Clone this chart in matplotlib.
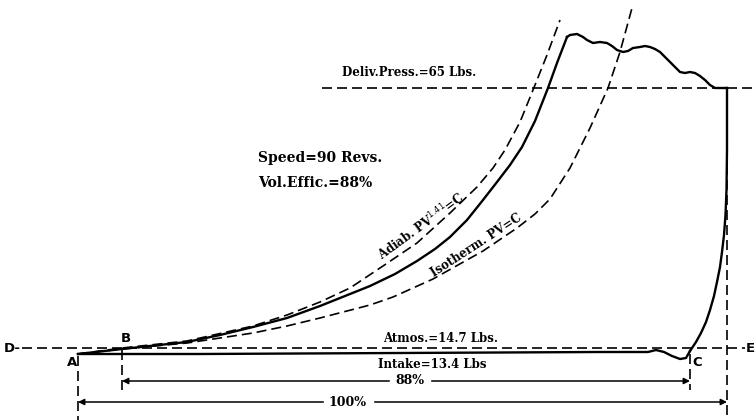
import matplotlib.pyplot as plt

# Indicator card of an air compressor, coordinates (pixel units, y down)
comp_x = [78, 122, 187, 220, 253, 287, 320, 345, 370, 395, 417, 435, 450, 467, 483,
          497, 510, 522, 535, 548, 557, 567]
comp_y = [354, 349, 342, 335, 327, 318, 306, 296, 286, 274, 261, 249, 237, 220, 200,
          182, 165, 147, 121, 88, 63, 37]

deliv_x = [567, 570, 577, 583, 587, 593, 600, 607, 612, 617, 623, 628, 633, 640, 645,
           650, 655, 660, 665, 670, 675, 680, 685, 690, 695, 700, 705, 710, 715, 727]
deliv_y = [37, 35, 34, 37, 40, 43, 42, 43, 46, 50, 52, 51, 48, 47, 46,
           47, 49, 52, 57, 62, 67, 72, 73, 72, 73, 76, 80, 85, 88, 88]

reexp_x = [727, 727, 727, 726.5, 725.5, 724, 722, 720, 717, 714, 710, 706, 701, 696, 690]
reexp_y = [88, 120, 150, 190, 215, 235, 252, 267, 282, 296, 310, 322, 333, 342, 351]

intake_x = [690, 686, 680, 672, 664, 656, 648, 600, 400, 200, 78]
intake_y = [351, 358, 359, 356, 352, 350, 352, 352, 353, 354, 354]

adiab_x = [78, 122, 187, 253, 287, 320, 350, 383, 417, 450, 477, 493, 505, 520, 533, 547, 560]
adiab_y = [354, 348, 341, 326, 315, 302, 288, 266, 243, 213, 187, 168, 150, 122, 90, 55, 20]

iso_x = [78, 122, 187, 253, 287, 320, 370, 393, 433, 483, 517, 535, 550, 570, 590, 608, 620, 632]
iso_y = [354, 349, 343, 333, 326, 318, 305, 297, 279, 251, 228, 214, 199, 168, 128, 88, 52, 8]

atmos_y = 348
deliv_line_y = 88
x_A, x_B, x_C, x_end = 78, 122, 690, 727

fig = plt.figure(figsize=(7.56, 4.2), dpi=100)
ax = fig.add_axes([0, 0, 1, 1])
ax.set_xlim(0, 756)
ax.set_ylim(420, 0)
ax.axis('off')

dash = dict(color='black', lw=1.2, dashes=(6, 3))
solid = dict(color='black', lw=1.7, solid_joinstyle='round')

# the card itself
ax.plot(comp_x, comp_y, **solid)
ax.plot(deliv_x, deliv_y, **solid)
ax.plot(reexp_x, reexp_y, **solid)
ax.plot(intake_x, intake_y, **solid)

# theoretical curves
ax.plot(adiab_x, adiab_y, **dash)
ax.plot(iso_x, iso_y, **dash)

# reference lines
ax.plot([22, 745], [atmos_y, atmos_y], **dash)
ax.plot([322, 756], [deliv_line_y, deliv_line_y], **dash)
ax.plot([x_A, x_A], [356, 420], **dash)
ax.plot([x_B, x_B], [350, 392], **dash)
ax.plot([x_C, x_C], [354, 390], **dash)
ax.plot([x_end, x_end], [90, 420], **dash)

# dimension arrows
arrow = dict(arrowstyle='<|-|>', color='black', lw=1.1, mutation_scale=9, shrinkA=0, shrinkB=0)
ax.annotate('', xy=(x_B, 381), xytext=(x_C, 381), arrowprops=arrow)
ax.annotate('', xy=(x_A, 402), xytext=(x_end, 402), arrowprops=arrow)

serif = dict(family='DejaVu Serif', fontweight='bold', color='black')
ax.text(410, 380, '88%', ha='center', va='center', fontsize=9, backgroundcolor='white', **serif)
ax.text(348, 402, '100%', ha='center', va='center', fontsize=9, backgroundcolor='white', **serif)

ax.text(342, 73, 'Deliv.Press.=65 Lbs.', ha='left', va='center', fontsize=8.5, **serif)
ax.text(258, 158, 'Speed=90 Revs.', ha='left', va='center', fontsize=10, **serif)
ax.text(258, 183, 'Vol.Effic.=88%', ha='left', va='center', fontsize=10, **serif)
ax.text(441, 339, 'Atmos.=14.7 Lbs.', ha='center', va='center', fontsize=8.5, **serif)
ax.text(432, 364, 'Intake=13.4 Lbs', ha='center', va='center', fontsize=8.5, **serif)

ax.text(421, 226, 'Adiab. PV$^{1.41}$=C', ha='center', va='center', fontsize=8.5,
        rotation=36, rotation_mode='anchor', **serif)
ax.text(476, 245, 'Isotherm. PV=C', ha='center', va='center', fontsize=8.5,
        rotation=33, rotation_mode='anchor', **serif)

sans = dict(family='DejaVu Sans', fontweight='bold', fontsize=9.5, color='black')
ax.text(72, 362, 'A', ha='center', va='center', **sans)
ax.text(126, 339, 'B', ha='center', va='center', **sans)
ax.text(697, 363, 'C', ha='center', va='center', **sans)
ax.text(12, 348, 'D-', ha='center', va='center', **sans)
ax.text(750, 348, 'E', ha='center', va='center', **sans)

fig.savefig('out.png', dpi=100)
